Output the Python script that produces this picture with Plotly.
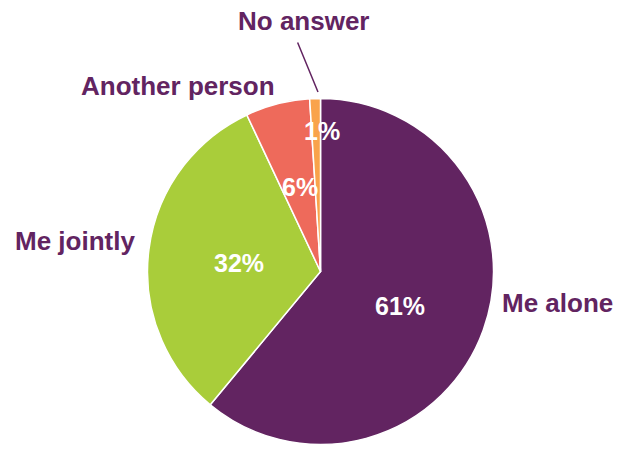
import plotly.graph_objects as go

# Who decides - share of answers
labels = ["Me alone", "Me jointly", "Another person", "No answer"]
values = [61, 32, 6, 1]
colors = ["#622461", "#A9CD3A", "#EE6A5B", "#F9A34B"]

LABEL_COLOR = "#622461"
FONT = "Liberation Sans, Arial, sans-serif"
W, H = 619, 452

fig = go.Figure()

fig.add_trace(
    go.Pie(
        labels=labels,
        values=values,
        sort=False,
        direction="clockwise",
        rotation=0,
        marker=dict(colors=colors, line=dict(color="white", width=1.5)),
        textinfo="none",
        hoverinfo="label+percent",
        showlegend=False,
        domain=dict(x=[0.2383, 0.7973], y=[0.0166, 0.7821]),
    )
)

# category label centres outside the pie (page pixels)
cat_pos = {
    "Me alone": (557, 303),
    "Me jointly": (75, 241),
    "Another person": (178, 86),
    "No answer": (304, 21),
}
# percent label centres inside the slices
pct_pos = {
    "Me alone": (400, 306),
    "Me jointly": (239, 263),
    "Another person": (300, 187),
    "No answer": (322, 131),
}


def px(x, y):
    return x / W, 1 - y / H


total = sum(values)
annotations = []
for lab, val in zip(labels, values):
    x, y = px(*cat_pos[lab])
    annotations.append(dict(
        x=x, y=y, xref="paper", yref="paper", xanchor="center", yanchor="middle",
        text=f"<b>{lab}</b>", showarrow=False, borderpad=0,
        font=dict(family=FONT, size=26, color=LABEL_COLOR),
    ))
    x, y = px(*pct_pos[lab])
    annotations.append(dict(
        x=x, y=y, xref="paper", yref="paper", xanchor="center", yanchor="middle",
        text=f"<b>{round(100 * val / total)}%</b>", showarrow=False,
        font=dict(family=FONT, size=25, color="white"),
    ))

# leader line for the tiny "No answer" slice
x, y = px(318, 92)
annotations.append(dict(
    x=x, y=y, xref="paper", yref="paper",
    ax=297 - 318, ay=41 - 92, text="",
    showarrow=True, arrowhead=0, arrowwidth=1.5, arrowcolor=LABEL_COLOR,
))

fig.update_layout(
    width=W,
    height=H,
    margin=dict(l=0, r=0, t=0, b=0),
    paper_bgcolor="white",
    plot_bgcolor="white",
    annotations=annotations,
    font=dict(family=FONT),
)

# drop the default page margin so the figure fills the window
fig.write_html(
    "out.html",
    config={"displayModeBar": False},
    post_script="document.body.style.margin = '0';",
)
